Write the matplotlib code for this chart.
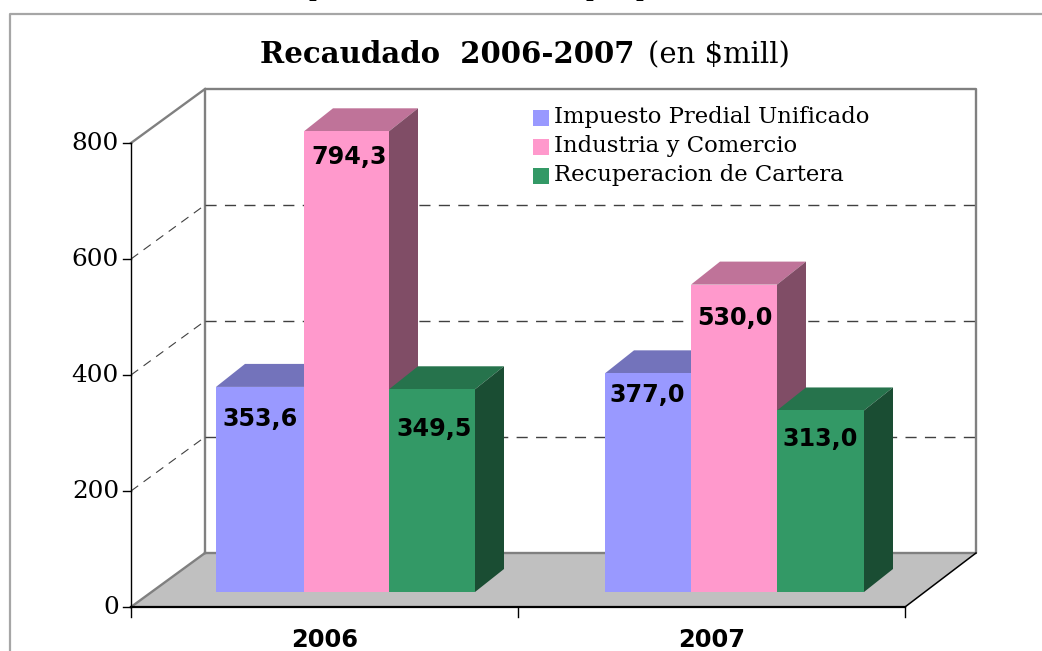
import matplotlib
matplotlib.use("Agg")
import matplotlib.pyplot as plt
from matplotlib.patches import Polygon, Rectangle

years = ["2006", "2007"]
series_names = ["Impuesto Predial Unificado", "Industria y Comercio", "Recuperacion de Cartera"]
predial = [353.6, 377.0]
industria = [794.3, 530.0]
cartera = [349.5, 313.0]
y_ticks = [0, 200, 400, 600, 800]

# colours: front, top, side
colors = [("#9999FF", "#7373BB", "#4D4D80"),
          ("#FF99CC", "#BF7399", "#804D66"),
          ("#339966", "#26734C", "#1A4D33")]

# layout in pixels of the 1042x651 image
PX = 0.58  # pixels per unit
FRONT_X0, FRONT_X1, FRONT_Y = 131, 905, 607
BACK_X0, BACK_X1, BACK_Y = 205, 976, 553
DEPTH_X, DEPTH_Y = 29, 23
BAR_BASE = 592
# bar edges of each group
group_edges = [[216, 304, 389, 475], [605, 691, 777, 864]]
# label offset under the top of each bar, one row per series
label_dy = [[32, 22], [26, 33], [40, 29]]
label_dx = [[0, -1], [3, 1], [2, 0]]

SERIF = "DejaVu Serif"
SANS = "DejaVu Sans"

fig = plt.figure(figsize=(10.42, 6.51), dpi=100)
ax = fig.add_axes([0, 0, 1, 1])
ax.set_xlim(0, 1042)
ax.set_ylim(651, 0)
ax.axis("off")

# cut off heading of the slide and frame
for x in [316, 593, 643]:
    ax.text(x, -3, "p", family=SERIF, fontweight="bold", fontsize=15, ha="center", va="baseline", color="black")
ax.plot([9.5, 9.5, 1042], [651, 13.5, 13.5], color="#A6A6A6", lw=1.6)

# title
ax.text(260, 63, "Recaudado  2006-2007", family=SERIF, fontweight="bold", fontsize=21, ha="left", va="baseline")
ax.text(648, 63, "(en $mill)", family=SERIF, fontsize=21, ha="left", va="baseline")

# floor and walls
ax.add_patch(Polygon([(FRONT_X0, FRONT_Y), (FRONT_X1, FRONT_Y), (BACK_X1, BACK_Y), (BACK_X0, BACK_Y)],
                     facecolor="#C0C0C0", edgecolor="none"))
top_back = BACK_Y - 800 * PX
top_front = FRONT_Y - 800 * PX
ax.plot([BACK_X0, BACK_X0, BACK_X1, BACK_X1, BACK_X0], [BACK_Y, top_back, top_back, BACK_Y, BACK_Y],
        color="#808080", lw=1.7)
ax.plot([FRONT_X0, BACK_X0], [top_front, top_back], color="#808080", lw=1.7)
ax.plot([FRONT_X0, BACK_X0], [FRONT_Y, BACK_Y], color="#808080", lw=1.7)

# grid lines
for v in y_ticks[1:-1]:
    ax.plot([BACK_X0, BACK_X1], [BACK_Y - v * PX] * 2, color="#404040", lw=1, dashes=(8, 6))
    ax.plot([FRONT_X0, BACK_X0], [FRONT_Y - v * PX, BACK_Y - v * PX], color="#404040", lw=0.8, dashes=(8, 6))

# bars
for s, values in enumerate([predial, industria, cartera]):
    front, top, side = colors[s]
    for g, v in enumerate(values):
        x0 = group_edges[g][s]
        x1 = group_edges[g][s + 1]
        y_top = BAR_BASE - v * PX
        ax.add_patch(Polygon([(x0, y_top), (x1, y_top), (x1 + DEPTH_X, y_top - DEPTH_Y), (x0 + DEPTH_X, y_top - DEPTH_Y)],
                             facecolor=top, edgecolor="none", zorder=3 + s))
        ax.add_patch(Polygon([(x1, y_top), (x1 + DEPTH_X, y_top - DEPTH_Y), (x1 + DEPTH_X, BAR_BASE - DEPTH_Y), (x1, BAR_BASE)],
                             facecolor=side, edgecolor="none", zorder=3 + s))
        ax.add_patch(Rectangle((x0, y_top), x1 - x0, v * PX, facecolor=front, edgecolor="none", zorder=3 + s))

for s, values in enumerate([predial, industria, cartera]):
    for g, v in enumerate(values):
        xc = (group_edges[g][s] + group_edges[g][s + 1]) / 2
        ax.text(xc + label_dx[s][g], BAR_BASE - v * PX + label_dy[s][g],
                ("%.1f" % v).replace(".", ","), family=SANS, fontweight="bold", fontsize=17.2,
                ha="center", va="center", zorder=10)

# front axes
ax.plot([FRONT_X0, FRONT_X0], [top_front, FRONT_Y + 10], color="black", lw=1, zorder=6)
ax.plot([FRONT_X0, FRONT_X1], [FRONT_Y, FRONT_Y], color="black", lw=1.6, zorder=6)
ax.plot([FRONT_X1, BACK_X1], [FRONT_Y, BACK_Y], color="black", lw=1.1, zorder=6)
for v in y_ticks:
    y = FRONT_Y - v * PX
    ax.plot([FRONT_X0 - 8, FRONT_X0], [y, y], color="black", lw=1)
    ax.text(FRONT_X0 - 12, y + 0.5, str(v), family=SERIF, fontsize=17.8, ha="right", va="center")
cat_w = (FRONT_X1 - FRONT_X0) / len(years)
for i, year in enumerate(years):
    ax.plot([FRONT_X0 + (i + 1) * cat_w] * 2, [FRONT_Y, FRONT_Y + 10], color="black", lw=1)
    ax.text(FRONT_X0 + (i + 0.5) * cat_w, 640, year, family=SANS, fontweight="bold", fontsize=17.4, ha="center", va="center")

# legend
for i, name in enumerate(series_names):
    y = 118 + i * 29
    ax.add_patch(Rectangle((533, y - 8), 16, 16, facecolor=colors[i][0], edgecolor="none", zorder=8))
    ax.text(554, y - 1, name, family=SERIF, fontsize=16.4, ha="left", va="center", zorder=8)

fig.savefig("out.png", dpi=100)
